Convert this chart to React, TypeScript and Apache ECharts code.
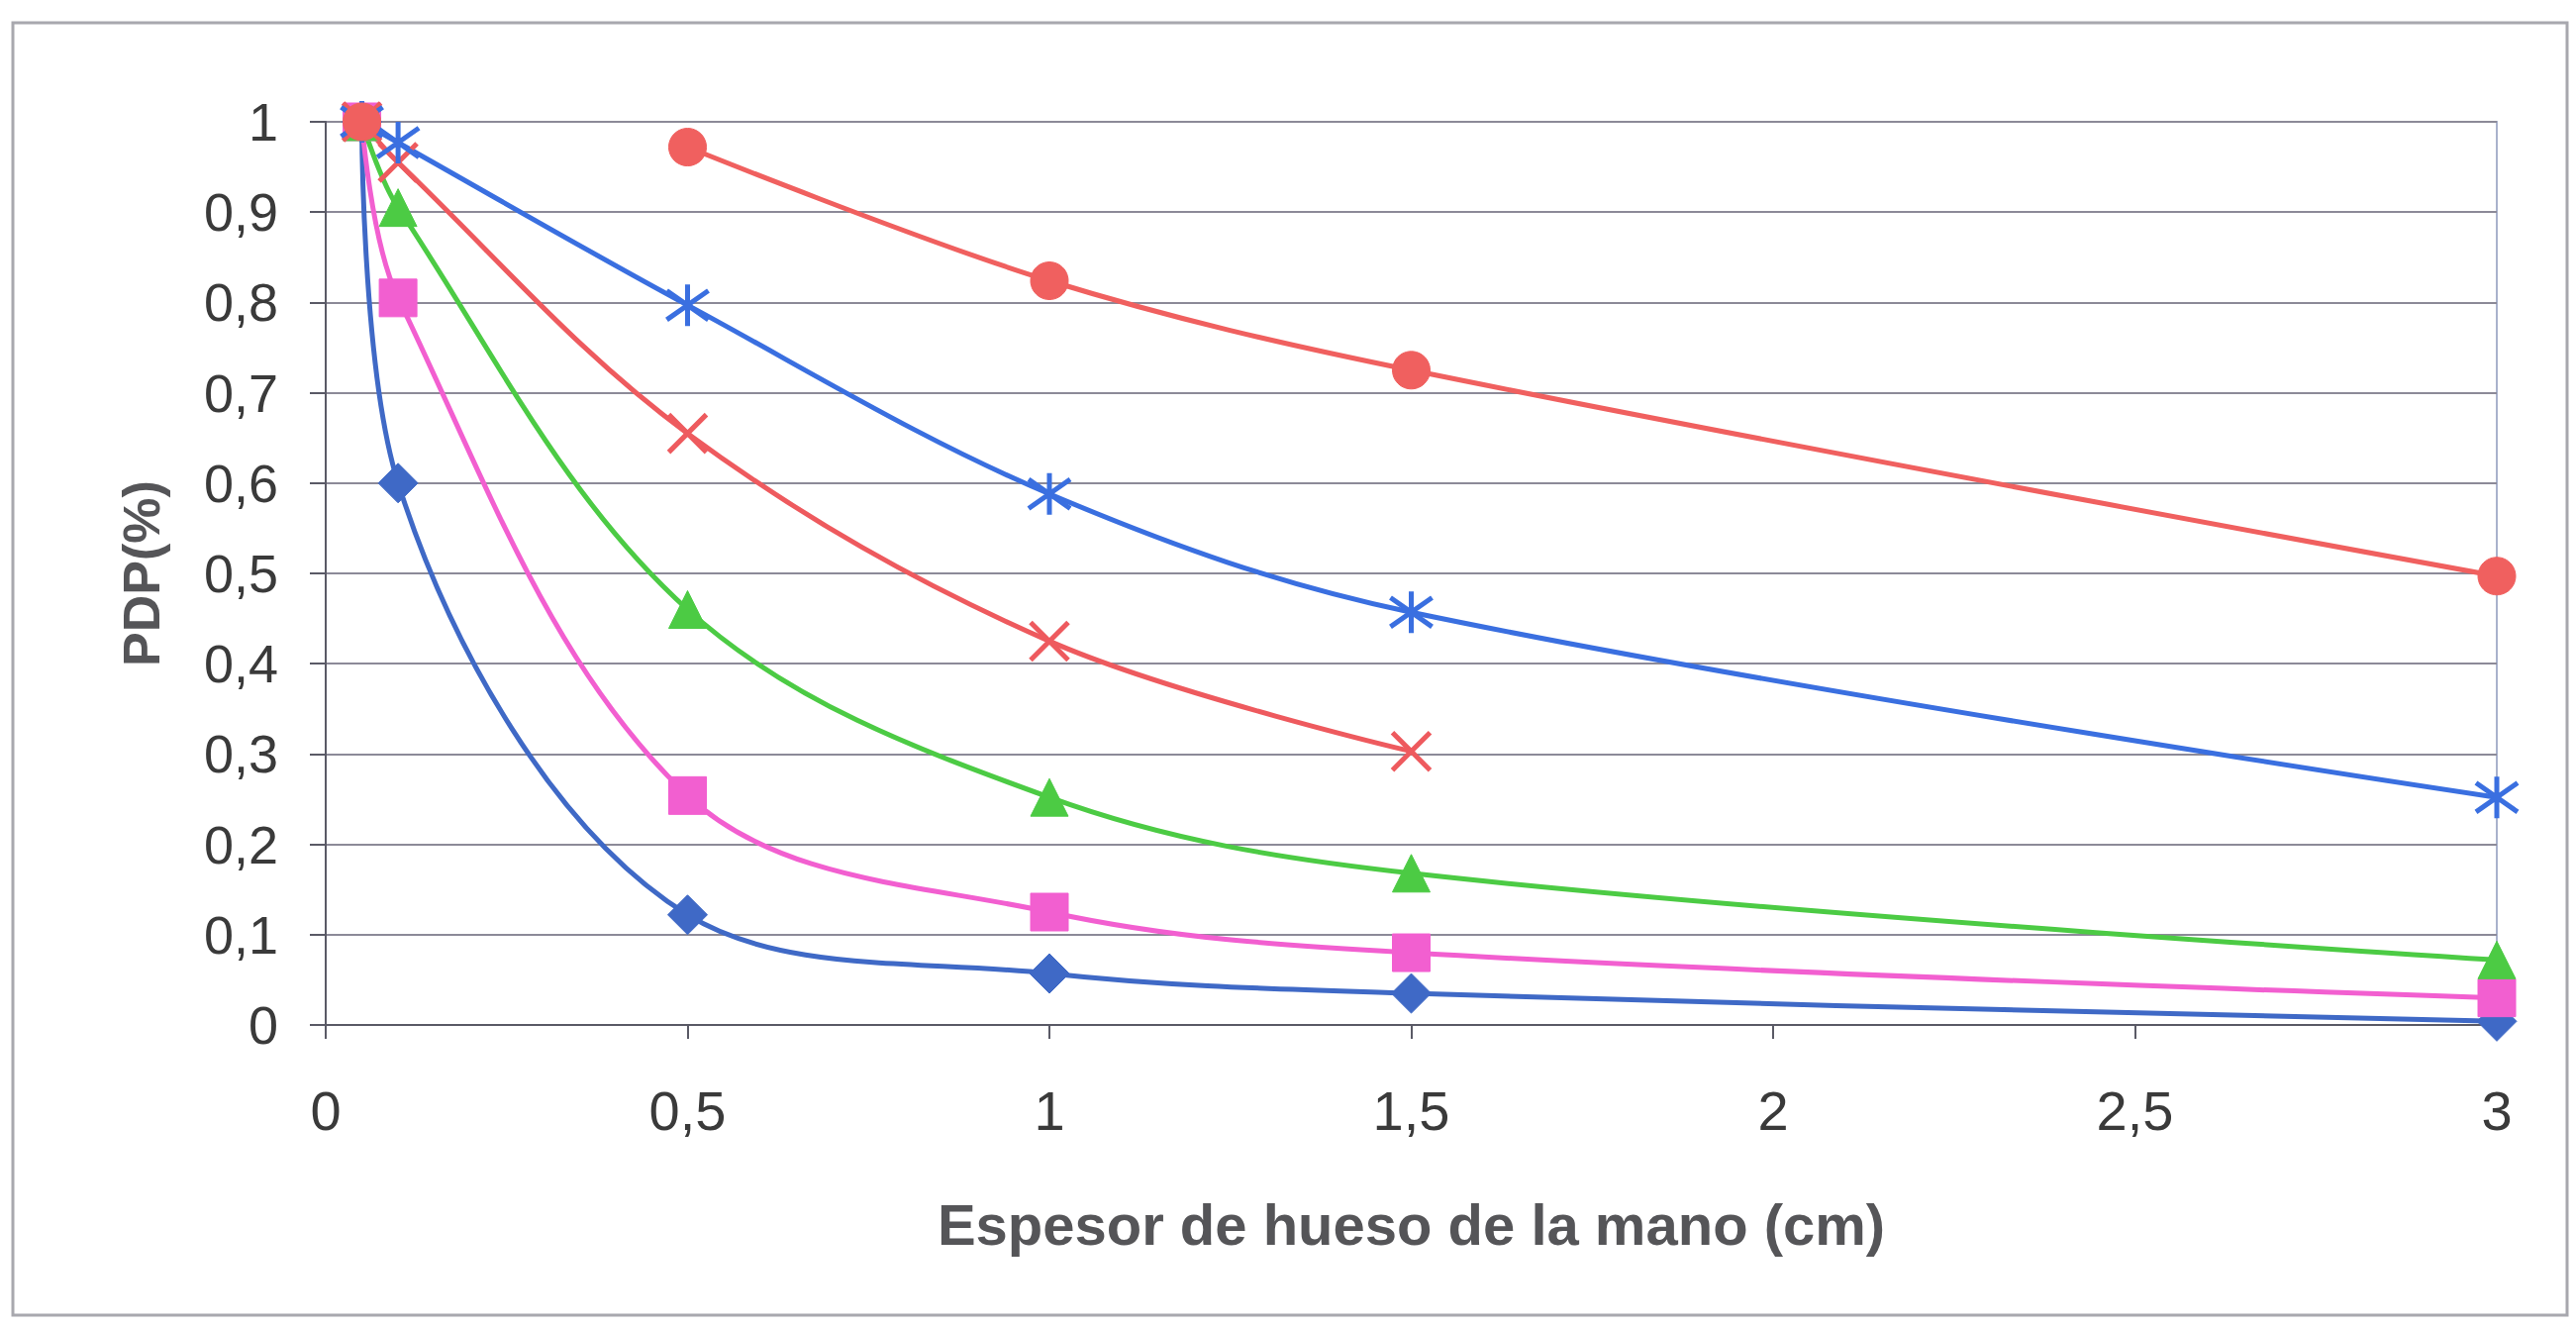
import React, { useEffect, useRef } from "react";
import * as echarts from "echarts";

const xValues = [0.05, 0.1, 0.5, 1, 1.5, 3];
const seriesNames = ["Diamante", "Cuadrado", "Triángulo", "Cruz", "Asterisco", "Círculo"];
const diamondValues = [1, 0.6, 0.122, 0.057, 0.035, 0.004];
const squareValues = [1, 0.805, 0.254, 0.125, 0.08, 0.03];
const triangleValues = [1, 0.905, 0.46, 0.252, 0.168, 0.072];
const crossValues = [1, 0.955, 0.655, 0.425, 0.303, null];
const starValues = [1, 0.977, 0.797, 0.588, 0.457, 0.252];
const circleValues = [1, null, 0.972, 0.824, 0.725, 0.497];
const xTickLabels = ["0", "0,5", "1", "1,5", "2", "2,5", "3"];

const xTitle = "Espesor de hueso de la mano (cm)";
const yTitle = "PDP(%)";

const CROSS = "path://M0,0L10,10M10,0L0,10";
const STAR = "path://M5,0L5,10M0.8,1.5L9.2,8.5M9.2,1.5L0.8,8.5";

function pairs(vals: (number | null)[]) {
  return xValues.map((x, i) => [x, vals[i]]);
}

export default function App() {
  const ref = useRef<HTMLDivElement>(null);
  useEffect(() => {
    if (!ref.current) return;
    const chart = echarts.init(ref.current, undefined, { renderer: "svg" });
    const lineSeries = (
      name: string,
      vals: (number | null)[],
      color: string,
      symbol: string,
      size: number,
      stroke: boolean
    ) => ({
      name,
      type: "line",
      data: pairs(vals),
      smooth: 0.35,
      connectNulls: false,
      symbol,
      symbolSize: size,
      showSymbol: true,
      lineStyle: { color, width: 5 },
      itemStyle: stroke
        ? { color: "transparent", borderColor: color, borderWidth: 5 }
        : { color, borderColor: color, borderWidth: 1 },
      z: 3,
    });
    chart.setOption({
      animation: false,
      backgroundColor: "#ffffff",
      graphic: [
        {
          type: "rect",
          shape: { x: 13, y: 23, width: 2580, height: 1305 },
          style: { fill: "none", stroke: "#a8a8ae", lineWidth: 3 },
          silent: true,
          z: 0,
        },
      ],
      grid: {
        left: 329,
        right: 80,
        top: 123,
        bottom: 307,
        show: true,
        borderColor: "#a9b2cc",
        borderWidth: 2,
        backgroundColor: "transparent",
      },
      xAxis: {
        type: "value",
        min: 0,
        max: 3,
        interval: 0.5,
        name: xTitle,
        nameLocation: "middle",
        nameGap: 172,
        nameTextStyle: {
          fontFamily: "Liberation Sans, Arial, sans-serif",
          fontWeight: "bold",
          fontSize: 58,
          color: "#555558",
        },
        axisLine: { show: true, lineStyle: { color: "#5a5a66", width: 2 } },
        axisTick: { show: true, length: 14, lineStyle: { color: "#5a5a66", width: 2 } },
        splitLine: { show: false },
        axisLabel: {
          margin: 58,
          fontFamily: "Liberation Sans, Arial, sans-serif",
          fontSize: 56,
          color: "#3a3a3a",
          formatter: (v: number) => xTickLabels[Math.round(v / 0.5)] ?? String(v),
        },
      },
      yAxis: {
        type: "value",
        min: 0,
        max: 1,
        interval: 0.1,
        name: yTitle,
        nameLocation: "middle",
        nameGap: 160,
        nameRotate: 90,
        nameTextStyle: {
          fontFamily: "Liberation Sans, Arial, sans-serif",
          fontWeight: "bold",
          fontSize: 52,
          color: "#555558",
        },
        axisLine: { show: true, lineStyle: { color: "#5a5a66", width: 2 } },
        axisTick: { show: true, length: 16, lineStyle: { color: "#5a5a66", width: 2 } },
        splitLine: { show: true, lineStyle: { color: "#8c8a98", width: 2 } },
        axisLabel: {
          margin: 48,
          fontFamily: "Liberation Sans, Arial, sans-serif",
          fontSize: 54,
          color: "#3a3a3a",
          formatter: (v: number) => (Math.round(v * 10) / 10).toString().replace(".", ","),
        },
      },
      series: [
        lineSeries(seriesNames[0], diamondValues, "#3f69c6", "diamond", 40, false),
        lineSeries(seriesNames[1], squareValues, "#f25fd0", "rect", 38, false),
        lineSeries(seriesNames[2], triangleValues, "#4ccb44", "triangle", 38, false),
        lineSeries(seriesNames[3], crossValues, "#ee5a5e", CROSS, 38, true),
        lineSeries(seriesNames[4], starValues, "#3a6fe0", STAR, 42, true),
        lineSeries(seriesNames[5], circleValues, "#f0605f", "circle", 38, false),
      ],
    });
    return () => chart.dispose();
  }, []);
  return (
    <div
      ref={ref}
      style={{ position: "fixed", left: 0, top: 0, width: 2602, height: 1342 }}
    />
  );
}
